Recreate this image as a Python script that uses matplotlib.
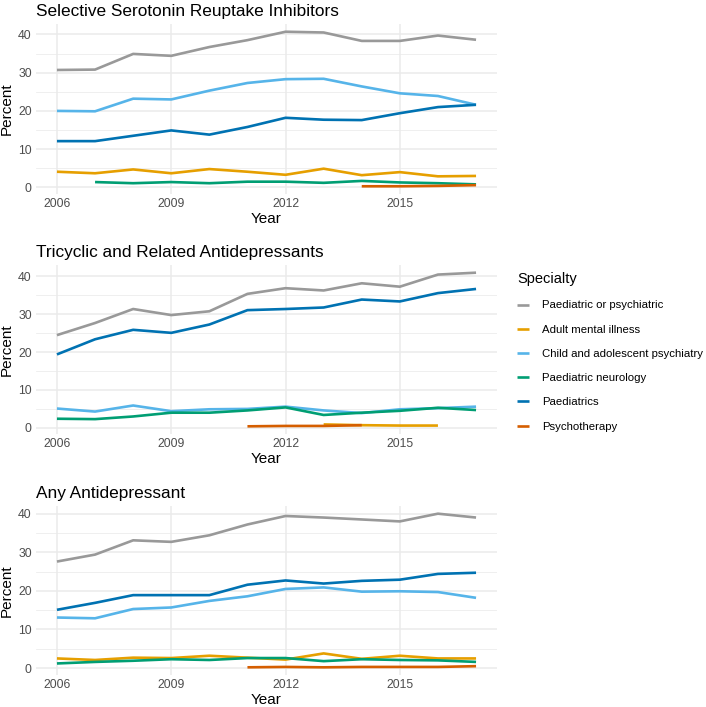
import matplotlib.pyplot as plt
import numpy as np

years = list(range(2006, 2018))
nan = np.nan

specialties = ["Paediatric or psychiatric", "Adult mental illness",
               "Child and adolescent psychiatry", "Paediatric neurology",
               "Paediatrics", "Psychotherapy"]
colors = ["#999999", "#E69F00", "#56B4E9", "#009E73", "#0072B2", "#D55E00"]

# Selective Serotonin Reuptake Inhibitors
ssri_paed_psych = [30.7, 30.8, 34.9, 34.4, 36.7, 38.5, 40.7, 40.5, 38.3, 38.3, 39.7, 38.6]
ssri_adult = [4.1, 3.7, 4.7, 3.7, 4.8, 4.1, 3.3, 4.9, 3.2, 4.0, 2.9, 3.0]
ssri_camhs = [20.0, 19.9, 23.2, 23.0, 25.3, 27.3, 28.3, 28.4, 26.4, 24.6, 23.9, 21.6]
ssri_neuro = [nan, 1.4, 1.1, 1.4, 1.1, 1.5, 1.5, 1.2, 1.7, 1.3, 1.1, 0.8]
ssri_paeds = [12.1, 12.1, 13.5, 14.9, 13.8, 15.8, 18.2, 17.7, 17.6, 19.4, 21.0, 21.6]
ssri_psychother = [nan, nan, nan, nan, nan, nan, nan, nan, 0.3, 0.3, 0.4, 0.6]

# Tricyclic and Related Antidepressants
tca_paed_psych = [24.5, 27.7, 31.4, 29.8, 30.8, 35.4, 36.9, 36.3, 38.2, 37.3, 40.5, 41.0]
tca_adult = [nan, nan, nan, nan, nan, nan, nan, 0.9, 0.7, 0.6, 0.6, nan]
tca_camhs = [5.1, 4.3, 5.9, 4.4, 4.9, 5.0, 5.6, 4.6, 3.9, 4.9, 5.2, 5.6]
tca_neuro = [2.4, 2.3, 3.0, 4.0, 4.0, 4.6, 5.4, 3.4, 4.0, 4.5, 5.3, 4.7]
tca_paeds = [19.4, 23.4, 25.9, 25.1, 27.3, 31.1, 31.4, 31.8, 33.9, 33.4, 35.6, 36.7]
tca_psychother = [nan, nan, nan, nan, nan, 0.4, 0.5, 0.5, 0.7, nan, nan, nan]

# Any Antidepressant
any_paed_psych = [27.6, 29.4, 33.1, 32.7, 34.4, 37.2, 39.4, 39.0, 38.5, 38.0, 40.0, 39.0]
any_adult = [2.5, 2.1, 2.7, 2.6, 3.2, 2.7, 2.2, 3.8, 2.4, 3.2, 2.5, 2.5]
any_camhs = [13.1, 12.9, 15.3, 15.7, 17.4, 18.6, 20.5, 20.9, 19.8, 19.9, 19.7, 18.2]
any_neuro = [1.2, 1.6, 1.9, 2.3, 2.1, 2.6, 2.6, 1.8, 2.3, 2.1, 2.0, 1.6]
any_paeds = [15.1, 16.9, 18.9, 18.9, 18.9, 21.6, 22.7, 21.9, 22.6, 22.9, 24.4, 24.7]
any_psychother = [nan, nan, nan, nan, nan, 0.2, 0.3, 0.2, 0.3, 0.3, 0.3, 0.5]

panels = [
    ("Selective Serotonin Reuptake Inhibitors",
     [ssri_paed_psych, ssri_adult, ssri_camhs, ssri_neuro, ssri_paeds, ssri_psychother]),
    ("Tricyclic and Related Antidepressants",
     [tca_paed_psych, tca_adult, tca_camhs, tca_neuro, tca_paeds, tca_psychother]),
    ("Any Antidepressant",
     [any_paed_psych, any_adult, any_camhs, any_neuro, any_paeds, any_psychother]),
]

fig = plt.figure(figsize=(7.06, 7.07), dpi=100)
plt.rcParams['font.family'] = ['Liberation Sans', 'DejaVu Sans']

# axes boxes in pixels (top, bottom)
boxes = [(24, 194), (265, 434), (506, 675)]
left, right = 36, 497
W, H = 706, 707

axes = []
for (title, series), (top, bot) in zip(panels, boxes):
    ax = fig.add_axes([left / W, 1 - bot / H, (right - left) / W, (bot - top) / H])
    for vals, c, name in zip(series, colors, specialties):
        ax.plot(years, vals, color=c, lw=1.9, label=name, solid_capstyle='butt')
    allv = np.array(series, dtype=float)
    lo, hi = np.nanmin(allv), np.nanmax(allv)
    pad = (hi - lo) * 0.05
    ax.set_ylim(lo - pad, hi + pad)
    ax.set_xlim(2006 - 0.55, 2017 + 0.55)
    ax.set_xticks([2006, 2009, 2012, 2015])
    ax.set_yticks([0, 10, 20, 30, 40])
    ax.set_yticks([5, 15, 25, 35], minor=True)
    ax.grid(True, which='major', color='#EBEBEB', lw=1.1)
    ax.grid(True, which='minor', axis='y', color='#EBEBEB', lw=0.55)
    ax.set_axisbelow(True)
    for s in ax.spines.values():
        s.set_visible(False)
    ax.tick_params(which='both', length=0, labelsize=8.8, labelcolor='#4D4D4D', pad=3)
    ax.set_xlabel("Year", fontsize=11, labelpad=1)
    ax.set_ylabel("Percent", fontsize=11, labelpad=3)
    ax.set_title(title, loc='left', fontsize=12.4, pad=6)
    axes.append(ax)

handles, labels = axes[0].get_legend_handles_labels()
leg = fig.legend(handles, labels, title="Specialty", loc='upper left',
                 bbox_to_anchor=(507 / W, 1 - 262 / H), frameon=False,
                 fontsize=8.2, title_fontsize=10.5, handlelength=1.05,
                 handletextpad=1.15, labelspacing=1.25)
leg._legend_box.align = "left"

fig.savefig("out.png", dpi=100)
